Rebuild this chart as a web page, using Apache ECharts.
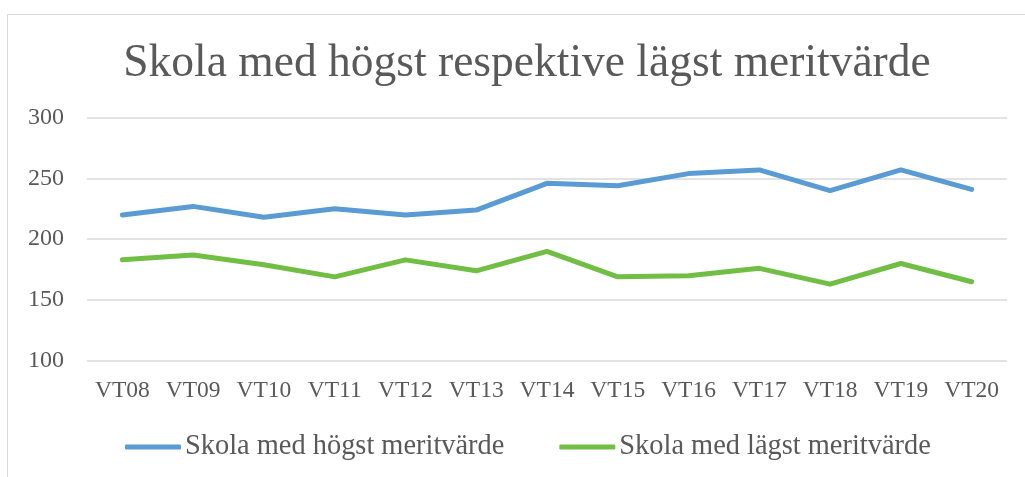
<!DOCTYPE html>
<html>
<head>
<meta charset="utf-8">
<script src="https://cdn.jsdelivr.net/npm/echarts@6/dist/echarts.min.js"></script>
<style>
  html, body { margin: 0; padding: 0; background: #fff; overflow: hidden; }
  #frame { position: absolute; left: 7px; top: 14px; width: 1100px; height: 600px; border: 1.5px solid #d9d9d9; }
  #main { position: absolute; left: 0; top: 0; width: 1025px; height: 477px; }
</style>
</head>
<body>
<div id="frame"></div>
<div id="main"></div>
<script>
// terminer
const categories = ['VT08', 'VT09', 'VT10', 'VT11', 'VT12', 'VT13', 'VT14', 'VT15', 'VT16', 'VT17', 'VT18', 'VT19', 'VT20'];
const hogst = [220, 227, 218, 225, 220, 224, 246, 244, 254, 257, 240, 257, 241];
const lagst = [183, 187, 179, 169, 183, 174, 190, 169, 170, 176, 163, 180, 165];
const seriesNames = ['Skola med högst meritvärde', 'Skola med lägst meritvärde'];
const titleText = 'Skola med högst respektive lägst meritvärde';

const font = '"Liberation Serif", "DejaVu Serif", serif';
const textColor = '#595959';

const chart = echarts.init(document.getElementById('main'));
chart.setOption({
  animation: false,
  title: {
    text: titleText,
    left: 522,
    top: 36,
    textAlign: 'center',
    textStyle: { fontFamily: font, fontSize: 45.5, fontWeight: 'normal', color: textColor }
  },
  grid: { left: 87, right: 18, top: 117.7, bottom: 116.3, containLabel: false },
  legend: {
    left: 120,
    top: 428,
    icon: 'roundRect',
    itemWidth: 56,
    itemHeight: 5,
    itemGap: 55,
    textStyle: { fontFamily: font, fontSize: 28.4, color: textColor, padding: [0, 0, 0, -1] },
    data: seriesNames
  },
  xAxis: {
    type: 'category',
    data: categories,
    boundaryGap: true,
    axisLine: { show: false },
    axisTick: { show: false },
    axisLabel: { interval: 0, fontFamily: font, fontSize: 23.5, color: textColor, margin: 18 }
  },
  yAxis: {
    type: 'value',
    min: 100,
    max: 300,
    interval: 50,
    axisLine: { show: false },
    axisTick: { show: false },
    axisLabel: { fontFamily: font, fontSize: 24, color: textColor, margin: 23 },
    splitLine: { lineStyle: { color: '#d9d9d9', width: 1.5 } }
  },
  series: [
    {
      name: seriesNames[0],
      type: 'line',
      data: hogst,
      symbol: 'none',
      itemStyle: { color: '#5a9bd3' },
      lineStyle: { color: '#5a9bd3', width: 5, cap: 'round', join: 'round' }
    },
    {
      name: seriesNames[1],
      type: 'line',
      data: lagst,
      symbol: 'none',
      itemStyle: { color: '#71be45' },
      lineStyle: { color: '#71be45', width: 5, cap: 'round', join: 'round' }
    }
  ]
});
</script>
</body>
</html>
